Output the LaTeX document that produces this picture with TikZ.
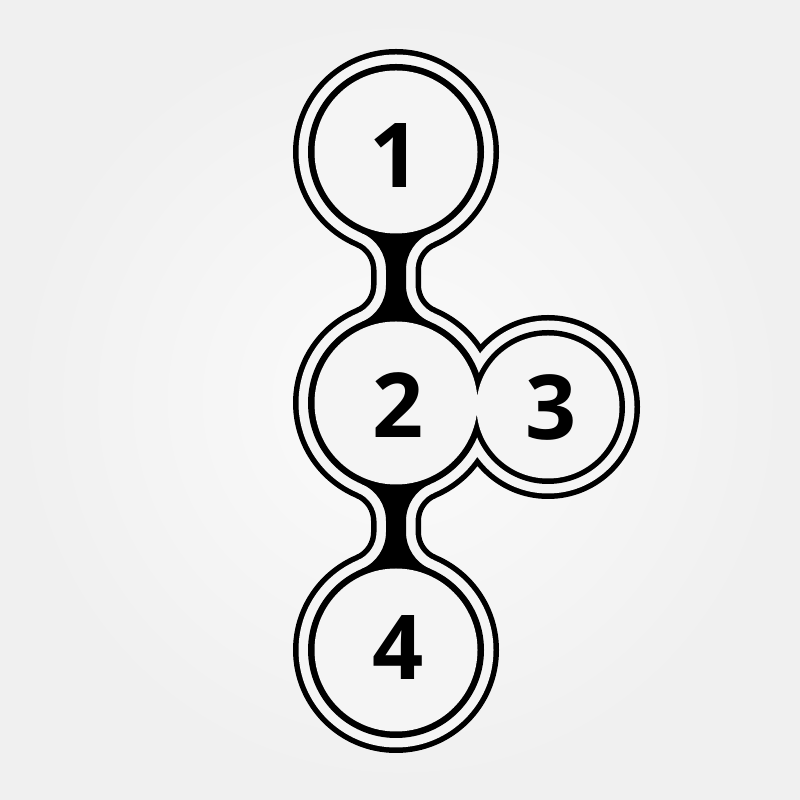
\documentclass[tikz,border=0pt]{standalone}
\usepackage{fontspec}
\usepackage{tikz}
\usetikzlibrary{math}
\newfontfamily\digitfont{Open Sans}
\definecolor{paper}{gray}{0.96}

\tikzset{
  digit/.style={font=\digitfont\bfseries\fontsize{51}{51}\selectfont, inner sep=0pt},
}

% waist between two circles on one vertical line:
% #1 colour, #2 x of centres, #3 upper y, #4 lower y, #5 circle radius,
% #6 half width of the waist, #7 radius of the rounding
\newcommand{\waist}[7]{%
  \tikzmath{
    \waistr = #7; \waistw = #6; \waistx = \waistw + \waistr;
    \waists = sqrt(((#5) + \waistr)^2 - \waistx^2);
    \waista = atan2(\waists, \waistx);
  }
  \fill[#1] ({#2 - \waistx + \waistr*cos(\waista)}, {#3 - \waists + \waistr*sin(\waista)}) arc (\waista:0:\waistr)
    -- ({#2 - \waistw}, {#4 + \waists}) arc (0:-\waista:\waistr)
    -- ({#2 + \waistx - \waistr*cos(\waista)}, {#4 + \waists - \waistr*sin(\waista)}) arc (180+\waista:180:\waistr)
    -- ({#2 + \waistw}, {#3 - \waists}) arc (180:180-\waista:\waistr) -- cycle;
}

\begin{document}
\begin{tikzpicture}
    \useasboundingbox (0,0) rectangle (16,16);
    \shade[inner color=gray!3, outer color=gray!12] (0,0) rectangle (16,16);
    \coordinate (c1) at (7.92, 12.96);
    \coordinate (c2) at (7.92, 7.94);
    \coordinate (c3) at (10.96, 7.86);
    \coordinate (c4) at (7.92, 3.00);
    % outer line, white band, black body
    \foreach \o/\c in {0.30/black, 0.19/paper, 0/black} {
        \fill[\c] (c1) circle[radius=1.76+\o] (c2) circle[radius=1.76+\o]
            (c4) circle[radius=1.76+\o] (c3) circle[radius=1.54+\o];
        \waist{\c}{7.92}{12.96}{7.94}{1.76+\o}{0.20+\o}{0.80-\o}
        \waist{\c}{7.92}{7.94}{3.00}{1.76+\o}{0.20+\o}{0.80-\o}
    }
    \fill[paper] (c1) circle[radius=1.63] (c2) circle[radius=1.63]
        (c4) circle[radius=1.63] (c3) circle[radius=1.43];
    \node[digit] (one) at (7.90, 12.89) {1};
    \node[digit] (two) at (7.97, 7.90) {2};
    \node[digit] (three) at (11.02, 7.85) {3};
    \node[digit] (four) at (7.96, 3.05) {4};
\end{tikzpicture}
\end{document}
